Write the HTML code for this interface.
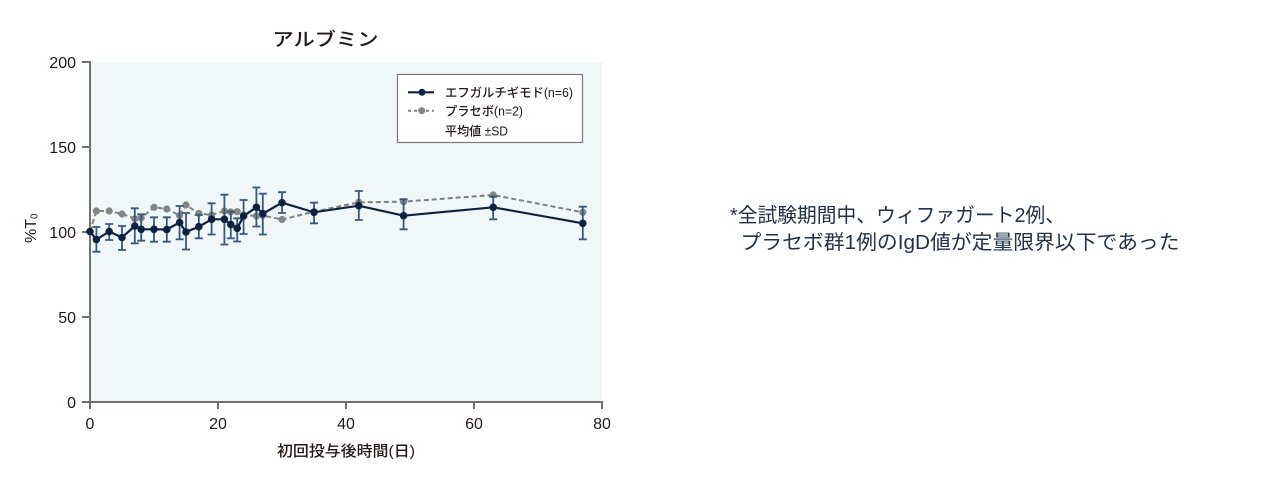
<!DOCTYPE html>
<html><head><meta charset="utf-8"><style>
html,body{margin:0;padding:0;background:#fff;}
svg{display:block;}
text{font-family:"Liberation Sans","Noto Sans CJK JP",sans-serif;fill:#231815;}
</style></head><body>
<svg width="1280" height="490" viewBox="0 0 1280 490" xmlns="http://www.w3.org/2000/svg">
<rect x="0" y="0" width="1280" height="490" fill="#fff"/>
<!-- plot background -->
<rect x="91" y="62" width="511" height="339" fill="#eff7f9"/>
<!-- title -->
<text x="325.5" y="46" font-size="18.5" font-weight="500" text-anchor="middle" textLength="106" lengthAdjust="spacingAndGlyphs">アルブミン</text>
<!-- axes -->
<g stroke="#707070" stroke-width="2" fill="none">
<line x1="90" y1="61" x2="90" y2="409"/>
<line x1="82" y1="402" x2="603" y2="402"/>
<line x1="82" y1="62" x2="90" y2="62"/>
<line x1="82" y1="147" x2="90" y2="147"/>
<line x1="82" y1="232" x2="90" y2="232"/>
<line x1="82" y1="317" x2="90" y2="317"/>
<line x1="218" y1="402" x2="218" y2="409"/>
<line x1="346" y1="402" x2="346" y2="409"/>
<line x1="474" y1="402" x2="474" y2="409"/>
<line x1="602" y1="402" x2="602" y2="409"/>
</g>
<!-- y tick labels -->
<g font-size="16" text-anchor="end">
<text x="76" y="68">200</text>
<text x="76" y="153">150</text>
<text x="76" y="238">100</text>
<text x="76" y="323">50</text>
<text x="76" y="408">0</text>
</g>
<!-- x tick labels -->
<g font-size="16" text-anchor="middle">
<text x="90" y="429">0</text>
<text x="218" y="429">20</text>
<text x="346" y="429">40</text>
<text x="474" y="429">60</text>
<text x="602" y="429">80</text>
</g>
<!-- axis labels -->
<text x="346" y="456" font-size="15" font-weight="500" text-anchor="middle" textLength="138" lengthAdjust="spacingAndGlyphs">初回投与後時間(日)</text>
<text transform="translate(36,243) rotate(-90)" font-size="16" font-weight="500">%T<tspan font-size="10" dy="1.5">0</tspan></text>

<!-- placebo series -->
<polyline fill="none" stroke="#808080" stroke-width="2" stroke-dasharray="5,3"
points="90,231.5 96.4,211 109.2,211 122,214 134.8,218.7 141.2,218 154,207.3 166.8,209 179.6,215.5 186,205 198.8,213.3 211.6,215 224.4,211 230.8,212 237.2,211.7 243.6,215 256.4,216 262.8,215.5 282,219.5 314,211.7 358.8,202.3 403.6,201.7 493.2,195 582.8,212.3"/>
<g fill="#858585">
<circle cx="96.4" cy="211" r="3.6"/><circle cx="109.2" cy="211" r="3.6"/><circle cx="122" cy="214" r="3.6"/>
<circle cx="134.8" cy="218.7" r="3.6"/><circle cx="141.2" cy="218" r="3.6"/><circle cx="154" cy="207.3" r="3.6"/>
<circle cx="166.8" cy="209" r="3.6"/><circle cx="179.6" cy="215.5" r="3.6"/><circle cx="186" cy="205" r="3.6"/>
<circle cx="198.8" cy="213.3" r="3.6"/><circle cx="211.6" cy="215" r="3.6"/><circle cx="224.4" cy="211" r="3.6"/>
<circle cx="230.8" cy="212" r="3.6"/><circle cx="237.2" cy="211.7" r="3.6"/><circle cx="243.6" cy="215" r="3.6"/>
<circle cx="256.4" cy="216" r="3.6"/><circle cx="262.8" cy="215.5" r="3.6"/><circle cx="282" cy="219.5" r="3.6"/>
<circle cx="314" cy="211.7" r="3.6"/><circle cx="358.8" cy="202.3" r="3.6"/><circle cx="403.6" cy="201.7" r="3.6"/>
<circle cx="493.2" cy="195" r="3.6"/><circle cx="582.8" cy="212.3" r="3.6"/>
</g>

<!-- error bars -->
<g stroke="#37587d" stroke-width="1.8" fill="none">
<path d="M96.4,227V251.7M92.4,227H100.4M92.4,251.7H100.4"/>
<path d="M109.2,224V240M105.2,224H113.2M105.2,240H113.2"/>
<path d="M122,226V250M118,226H126M118,250H126"/>
<path d="M134.8,208.3V243.3M130.8,208.3H138.8M130.8,243.3H138.8"/>
<path d="M141.2,214.3V240.7M137.2,214.3H145.2M137.2,240.7H145.2"/>
<path d="M154,217.3V241.7M150,217.3H158M150,241.7H158"/>
<path d="M166.8,217.3V241.7M162.8,217.3H170.8M162.8,241.7H170.8"/>
<path d="M179.6,206V239.3M175.6,206H183.6M175.6,239.3H183.6"/>
<path d="M186,213V249.5M182,213H190M182,249.5H190"/>
<path d="M198.8,215V238.3M194.8,215H202.8M194.8,238.3H202.8"/>
<path d="M211.6,203.3V234.5M207.6,203.3H215.6M207.6,234.5H215.6"/>
<path d="M224.4,194.7V244.5M220.4,194.7H228.4M220.4,244.5H228.4"/>
<path d="M230.8,211.7V238.3M226.8,211.7H234.8M226.8,238.3H234.8"/>
<path d="M237.2,218.3V241.5M233.2,218.3H241.2M233.2,241.5H241.2"/>
<path d="M243.6,200V234M239.6,200H247.6M239.6,234H247.6"/>
<path d="M256.4,187.5V226.5M252.4,187.5H260.4M252.4,226.5H260.4"/>
<path d="M262.8,193.7V234.5M258.8,193.7H266.8M258.8,234.5H266.8"/>
<path d="M282,192.2V213M278,192.2H286M278,213H286"/>
<path d="M314,202.7V223.3M310,202.7H318M310,223.3H318"/>
<path d="M358.8,191V220M354.8,191H362.8M354.8,220H362.8"/>
<path d="M403.6,199.3V229.3M399.6,199.3H407.6M399.6,229.3H407.6"/>
<path d="M493.2,196.7V219.3M489.2,196.7H497.2M489.2,219.3H497.2"/>
<path d="M582.8,206.7V239.3M578.8,206.7H586.8M578.8,239.3H586.8"/>
</g>

<!-- efgartigimod series -->
<polyline fill="none" stroke="#0e2240" stroke-width="2.2"
points="90,231.5 96.4,239.5 109.2,231.5 122,237.5 134.8,226 141.2,229.3 154,229.3 166.8,229.5 179.6,222.5 186,232 198.8,226.7 211.6,219.3 224.4,219.3 230.8,224.5 237.2,228.3 243.6,216 256.4,207.3 262.8,213.7 282,202.7 314,212.3 358.8,205.7 403.6,215.7 493.2,207.3 582.8,223.3"/>
<g fill="#0e2240">
<circle cx="90" cy="231.5" r="3.8"/><circle cx="96.4" cy="239.5" r="3.8"/><circle cx="109.2" cy="231.5" r="3.8"/>
<circle cx="122" cy="237.5" r="3.8"/><circle cx="134.8" cy="226" r="3.8"/><circle cx="141.2" cy="229.3" r="3.8"/>
<circle cx="154" cy="229.3" r="3.8"/><circle cx="166.8" cy="229.5" r="3.8"/><circle cx="179.6" cy="222.5" r="3.8"/>
<circle cx="186" cy="232" r="3.8"/><circle cx="198.8" cy="226.7" r="3.8"/><circle cx="211.6" cy="219.3" r="3.8"/>
<circle cx="224.4" cy="219.3" r="3.8"/><circle cx="230.8" cy="224.5" r="3.8"/><circle cx="237.2" cy="228.3" r="3.8"/>
<circle cx="243.6" cy="216" r="3.8"/><circle cx="256.4" cy="207.3" r="3.8"/><circle cx="262.8" cy="213.7" r="3.8"/>
<circle cx="282" cy="202.7" r="3.8"/><circle cx="314" cy="212.3" r="3.8"/><circle cx="358.8" cy="205.7" r="3.8"/>
<circle cx="403.6" cy="215.7" r="3.8"/><circle cx="493.2" cy="207.3" r="3.8"/><circle cx="582.8" cy="223.3" r="3.8"/>
</g>

<!-- legend -->
<rect x="397.5" y="74.5" width="185" height="68" fill="#fff" stroke="#7a7a7a" stroke-width="1.2"/>
<line x1="408" y1="92.3" x2="434" y2="92.3" stroke="#0e2240" stroke-width="2.2"/>
<circle cx="422" cy="92.3" r="3.5" fill="#0e2240"/>
<line x1="408" y1="110.7" x2="434" y2="110.7" stroke="#808080" stroke-width="2" stroke-dasharray="3,3"/>
<circle cx="421.7" cy="110.7" r="3.5" fill="#858585"/>
<g font-size="12.5" font-weight="500">
<text x="445" y="97" textLength="128" lengthAdjust="spacingAndGlyphs">エフガルチギモド(n=6)</text>
<text x="445" y="115.3" textLength="78" lengthAdjust="spacingAndGlyphs">プラセボ(n=2)</text>
<text x="445" y="135.3" textLength="63" lengthAdjust="spacingAndGlyphs">平均値 ±SD</text>
</g>

<!-- note -->
<g font-size="20">
<text x="730" y="222" textLength="335" lengthAdjust="spacingAndGlyphs" style="fill:#22304a">*全試験期間中、ウィファガート2例、</text>
<text x="740.5" y="249" textLength="439" lengthAdjust="spacingAndGlyphs" style="fill:#22304a">プラセボ群1例のIgD値が定量限界以下であった</text>
</g>
</svg>
</body></html>
